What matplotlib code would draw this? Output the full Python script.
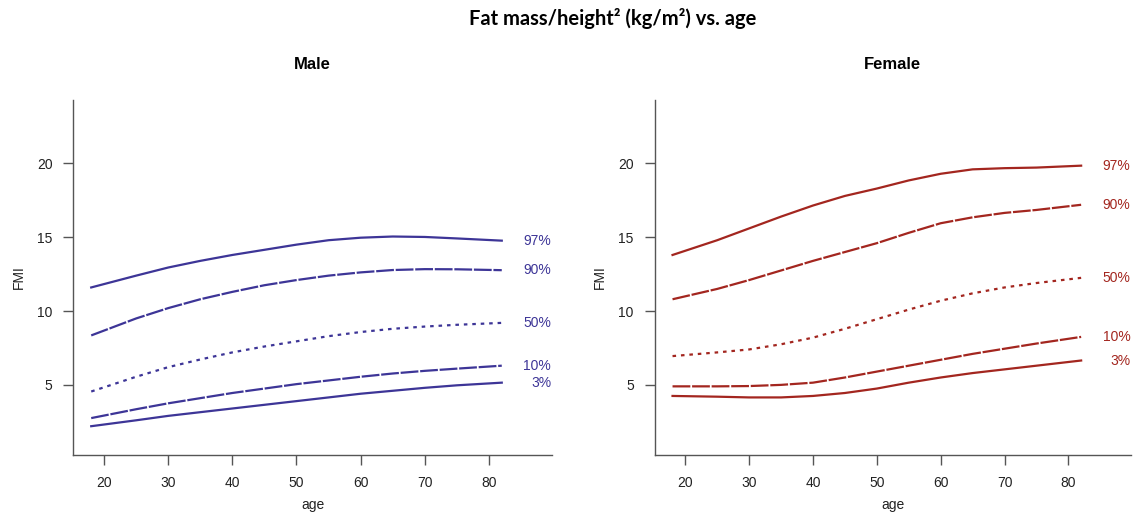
import matplotlib
matplotlib.use("Agg")
import matplotlib.pyplot as plt

ages = [18, 25, 30, 35, 40, 45, 50, 55, 60, 65, 70, 75, 82]
pct_labels = ["97%", "90%", "50%", "10%", "3%"]

male_97 = [11.6, 12.4, 12.95, 13.4, 13.8, 14.15, 14.5, 14.8, 14.97, 15.05, 15.02, 14.92, 14.77]
male_90 = [8.35, 9.5, 10.2, 10.8, 11.3, 11.75, 12.1, 12.4, 12.62, 12.78, 12.84, 12.83, 12.77]
male_50 = [4.55, 5.55, 6.2, 6.72, 7.2, 7.6, 7.95, 8.3, 8.58, 8.8, 8.95, 9.07, 9.2]
male_10 = [2.75, 3.35, 3.75, 4.1, 4.45, 4.75, 5.05, 5.3, 5.55, 5.77, 5.95, 6.1, 6.3]
male_3 = [2.2, 2.6, 2.9, 3.15, 3.4, 3.65, 3.9, 4.15, 4.4, 4.6, 4.8, 4.97, 5.15]

female_97 = [13.8, 14.8, 15.6, 16.4, 17.15, 17.8, 18.3, 18.85, 19.3, 19.6, 19.68, 19.72, 19.85]
female_90 = [10.8, 11.5, 12.1, 12.75, 13.4, 14.0, 14.6, 15.3, 15.95, 16.35, 16.65, 16.85, 17.2]
female_50 = [6.95, 7.2, 7.4, 7.75, 8.2, 8.8, 9.45, 10.1, 10.7, 11.2, 11.6, 11.9, 12.25]
female_10 = [4.9, 4.9, 4.92, 5.0, 5.15, 5.5, 5.9, 6.3, 6.7, 7.1, 7.45, 7.8, 8.25]
female_3 = [4.25, 4.2, 4.15, 4.15, 4.25, 4.45, 4.75, 5.15, 5.5, 5.8, 6.05, 6.3, 6.65]

x_ticks = [20, 30, 40, 50, 60, 70, 80]
y_ticks = [5, 10, 15, 20]

styles = ["-", (0, (8, 0.8)), (0, (1.6, 2.2)), (0, (8, 0.8)), "-"]

plt.rcParams["font.family"] = ["Liberation Sans", "DejaVu Sans"]

fig = plt.figure(figsize=(11.34, 5.14), dpi=100)
ax_m = fig.add_axes([0.0646, 0.1148, 0.422, 0.6907])
ax_f = fig.add_axes([0.5773, 0.1148, 0.42, 0.6907])

panels = [
    (ax_m, "Male", "#3d3597", [male_97, male_90, male_50, male_10, male_3]),
    (ax_f, "Female", "#a3261f", [female_97, female_90, female_50, female_10, female_3]),
]

for ax, name, col, series in panels:
    for vals, ls, lab in zip(series, styles, pct_labels):
        ax.plot(ages, vals, color=col, lw=1.6, ls=ls)
        ax.text(89.7, vals[-1], lab, color=col, fontsize=10, ha="right", va="center")
    ax.set_xlim(15.2, 89.8)
    ax.set_ylim(0.25, 24.3)
    ax.set_xticks(x_ticks)
    ax.set_yticks(y_ticks)
    for s in ["top", "right"]:
        ax.spines[s].set_visible(False)
    for s in ["left", "bottom"]:
        ax.spines[s].set_color("#555555")
        ax.spines[s].set_linewidth(1.0)
    ax.tick_params(length=7, width=1.0, color="#555555", labelsize=10, pad=8,
                   labelcolor="#222222")
    ax.set_xlabel("age", fontsize=10, labelpad=6, color="#222222")
    ax.set_ylabel("FMI", fontsize=10, labelpad=8, color="#222222")
    ax.set_title(name, fontsize=12, fontweight="bold", pad=22)

fig.suptitle("Fat mass/height² (kg/m²) vs. age", fontsize=14.5,
             fontweight="bold", family=["Lato", "DejaVu Sans"], x=0.54, y=0.985)

fig.savefig("out.png", dpi=100)
